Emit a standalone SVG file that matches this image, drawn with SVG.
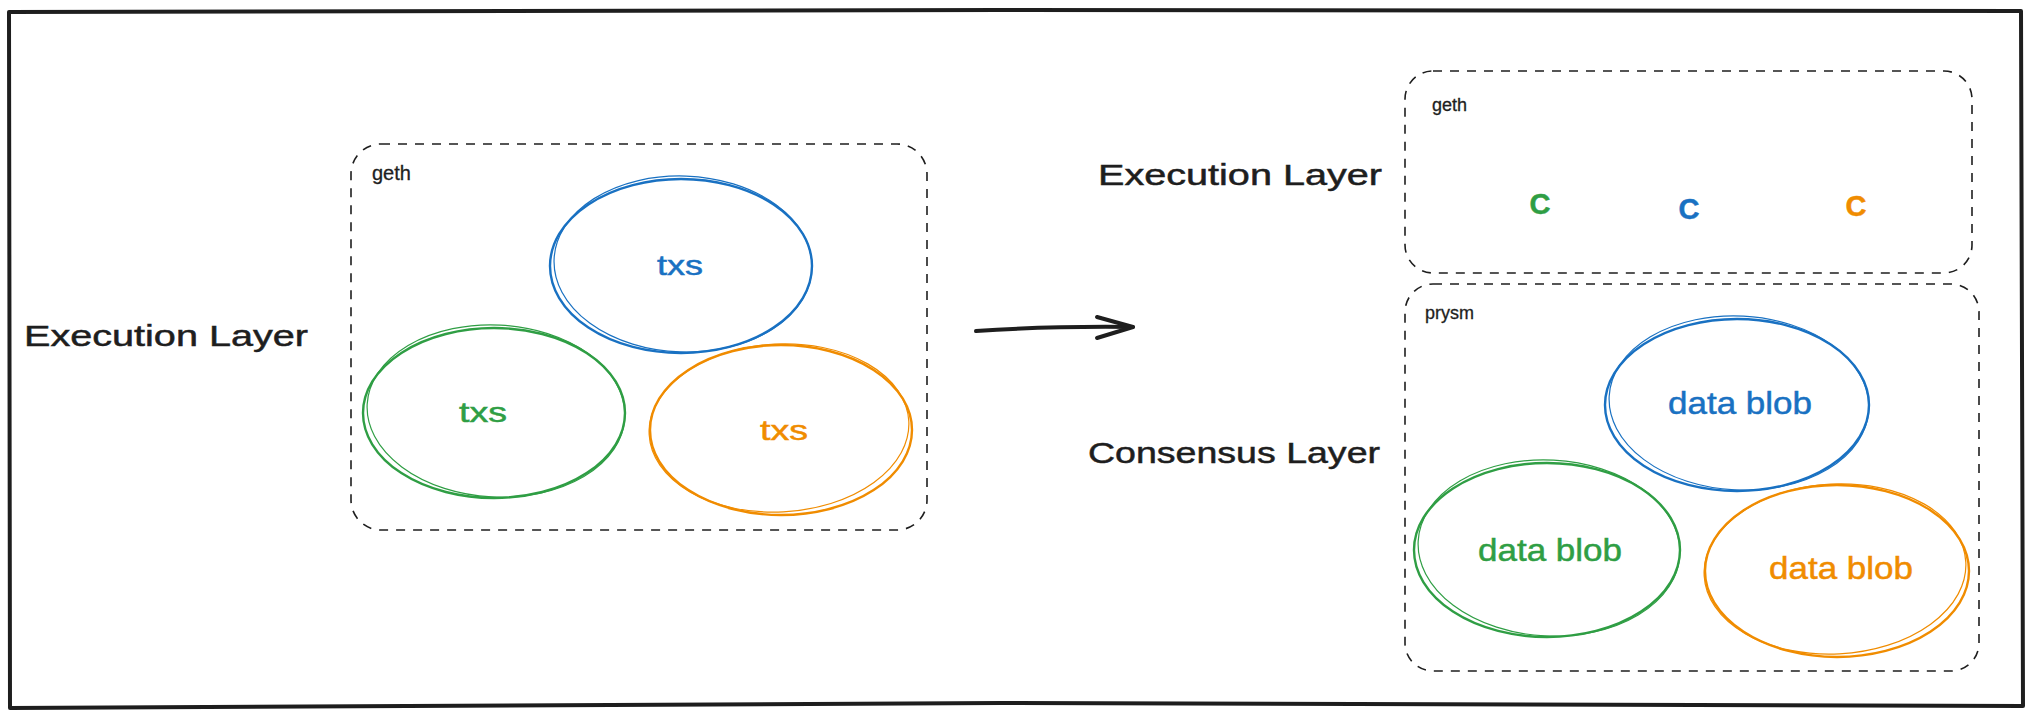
<svg xmlns="http://www.w3.org/2000/svg" width="2034" height="719" viewBox="0 0 2034 719">
  <style>
    .frame { fill: none; stroke: #1e1e1e; stroke-width: 4; stroke-linejoin: round; }
    .dash { fill: none; stroke: #1e1e1e; stroke-width: 1.6; stroke-dasharray: 9 8; }
    .ell { fill: none; stroke-width: 2.4; }
    .ell2 { fill: none; stroke-width: 1.2; }
    .blue { stroke: #1971c2; }
    .green { stroke: #2f9e44; }
    .orange { stroke: #f08c00; }
    .t { font-family: "Liberation Sans", Arial, sans-serif; fill: #1e1e1e; stroke: #1e1e1e; stroke-width: 0.5; }
    .big { font-size: 30px; }
    .small { font-size: 18px; stroke-width: 0.3; }
    .lbl { font-size: 28px; text-anchor: middle; }
    .blob { font-size: 32px; text-anchor: middle; }
    .cc { font-size: 29px; font-weight: bold; text-anchor: middle; }
    .tb { fill: #1971c2; stroke: #1971c2; }
    .tg { fill: #2f9e44; stroke: #2f9e44; }
    .to { fill: #f08c00; stroke: #f08c00; }
    .arrow { fill: none; stroke: #1e1e1e; stroke-width: 4; stroke-linecap: round; stroke-linejoin: round; }
  </style>

  <rect width="2034" height="719" fill="#ffffff"/>

  <g id="frame">
    <path class="frame" d="M9,12 L1000,10 L2021,11 L2023,706 L1000,703 L10,708 Z"/>
  </g>

  <g id="label-execution-left">
    <text class="t big" x="24" y="346" textLength="284" lengthAdjust="spacingAndGlyphs">Execution Layer</text>
  </g>

  <g id="geth-left">
    <rect class="dash" x="351" y="144" width="576" height="386" rx="30" ry="30"/>
    <text class="t small" x="372" y="180" style="font-size:20px">geth</text>
  </g>

  <g id="txs-blue">
    <ellipse class="ell blue" cx="681" cy="266" rx="131" ry="87"/>
    <ellipse class="ell2 blue" cx="683" cy="264" rx="129" ry="88" transform="rotate(2 683 264)"/>
    <text class="t lbl tb" x="680" y="275" textLength="46" lengthAdjust="spacingAndGlyphs">txs</text>
  </g>

  <g id="txs-green">
    <ellipse class="ell green" cx="494" cy="413" rx="131" ry="85"/>
    <ellipse class="ell2 green" cx="496" cy="411" rx="129" ry="86" transform="rotate(3 496 411)"/>
    <text class="t lbl tg" x="483" y="422" textLength="48" lengthAdjust="spacingAndGlyphs">txs</text>
  </g>

  <g id="txs-orange">
    <ellipse class="ell orange" cx="781" cy="430" rx="131" ry="85"/>
    <ellipse class="ell2 orange" cx="779" cy="428" rx="130" ry="84" transform="rotate(-3 779 428)"/>
    <text class="t lbl to" x="784" y="440" textLength="48" lengthAdjust="spacingAndGlyphs">txs</text>
  </g>

  <g id="connectors">
    <path class="arrow" d="M976,331 Q1050,326 1133,327"/>
    <path class="arrow" d="M1097,317 L1133,327 L1097,338"/>
  </g>

  <g id="label-execution-right">
    <text class="t big" x="1098" y="185" textLength="284" lengthAdjust="spacingAndGlyphs">Execution Layer</text>
  </g>

  <g id="label-consensus">
    <text class="t big" x="1088" y="463" textLength="292" lengthAdjust="spacingAndGlyphs">Consensus Layer</text>
  </g>

  <g id="geth-right">
    <rect class="dash" x="1405" y="71" width="567" height="202" rx="28" ry="28"/>
    <text class="t small" x="1432" y="111">geth</text>
  </g>

  <g id="c-green">
    <text class="t cc tg" x="1540" y="214">C</text>
  </g>
  <g id="c-blue">
    <text class="t cc tb" x="1689" y="219">C</text>
  </g>
  <g id="c-orange">
    <text class="t cc to" x="1856" y="216">C</text>
  </g>

  <g id="prysm">
    <rect class="dash" x="1405" y="284" width="574" height="387" rx="28" ry="28"/>
    <text class="t small" x="1425" y="319">prysm</text>
  </g>

  <g id="blob-blue">
    <ellipse class="ell blue" cx="1737" cy="405" rx="132" ry="86"/>
    <ellipse class="ell2 blue" cx="1739" cy="403" rx="130" ry="87" transform="rotate(3 1739 403)"/>
    <text class="t blob tb" x="1740" y="414" textLength="144" lengthAdjust="spacingAndGlyphs">data blob</text>
  </g>

  <g id="blob-green">
    <ellipse class="ell green" cx="1547" cy="550" rx="133" ry="87"/>
    <ellipse class="ell2 green" cx="1549" cy="548" rx="131" ry="88" transform="rotate(3 1549 548)"/>
    <text class="t blob tg" x="1550" y="561" textLength="144" lengthAdjust="spacingAndGlyphs">data blob</text>
  </g>

  <g id="blob-orange">
    <ellipse class="ell orange" cx="1837" cy="571" rx="132" ry="86"/>
    <ellipse class="ell2 orange" cx="1835" cy="569" rx="131" ry="85" transform="rotate(-3 1835 569)"/>
    <text class="t blob to" x="1841" y="579" textLength="144" lengthAdjust="spacingAndGlyphs">data blob</text>
  </g>
</svg>
